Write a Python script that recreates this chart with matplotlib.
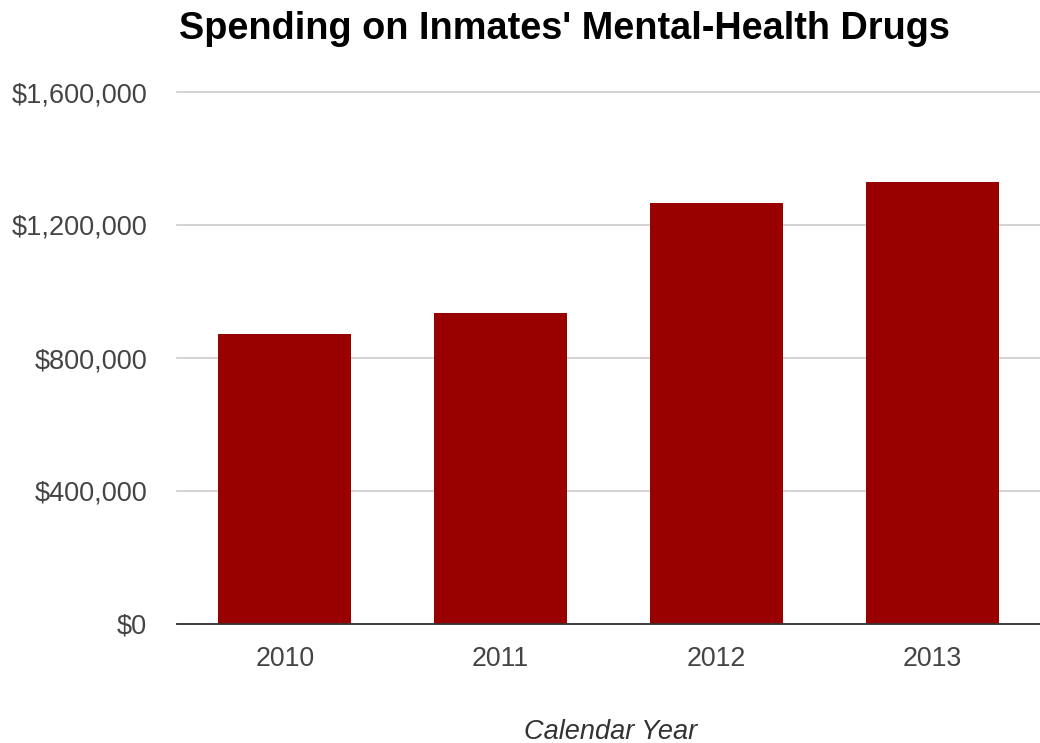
import matplotlib
matplotlib.use("Agg")
import matplotlib.pyplot as plt
from matplotlib.ticker import FuncFormatter

years = ["2010", "2011", "2012", "2013"]
spending = [872000, 934000, 1265000, 1328000]
yticks = [0, 400000, 800000, 1200000, 1600000]

plt.rcParams['font.family'] = ['Liberation Sans', 'DejaVu Sans']

fig = plt.figure(figsize=(10.4, 7.43), dpi=100)
ax = fig.add_axes([177/1040, 1-624/743, 1-177/1040, (624-92)/743])

x = range(len(years))
ax.bar(x, spending, width=0.617, color="#990000", zorder=3)
ax.set_xlim(-0.5, len(years) - 0.5)
ax.set_ylim(0, 1600000)
ax.set_yticks(yticks)
ax.yaxis.set_major_formatter(FuncFormatter(lambda v, p: "${:,.0f}".format(v)))
ax.set_xticks(list(x))
ax.set_xticklabels(years)
ax.grid(axis="y", color="#cccccc", linewidth=1.2, zorder=0, clip_on=False)
for s in ["top", "right", "left"]:
    ax.spines[s].set_visible(False)
ax.spines["bottom"].set_color("#333333")
ax.spines["bottom"].set_linewidth(1.3)
ax.spines["bottom"].set_zorder(4)
ax.tick_params(axis="both", length=0, labelcolor="#444444")
ax.tick_params(axis="y", pad=21.5, labelsize=19.5)
ax.tick_params(axis="x", pad=16, labelsize=19.3)

fig.text(611/1040, 1-739/743, "Calendar Year", ha="center", va="baseline",
         fontsize=19.5, style="italic", color="#333333")

fig.text(564/1040, 1-39/743, "Spending on Inmates' Mental-Health Drugs",
         ha="center", va="baseline", fontsize=27.3, fontweight="bold", color="#000000")

fig.savefig("out.png", dpi=100)
